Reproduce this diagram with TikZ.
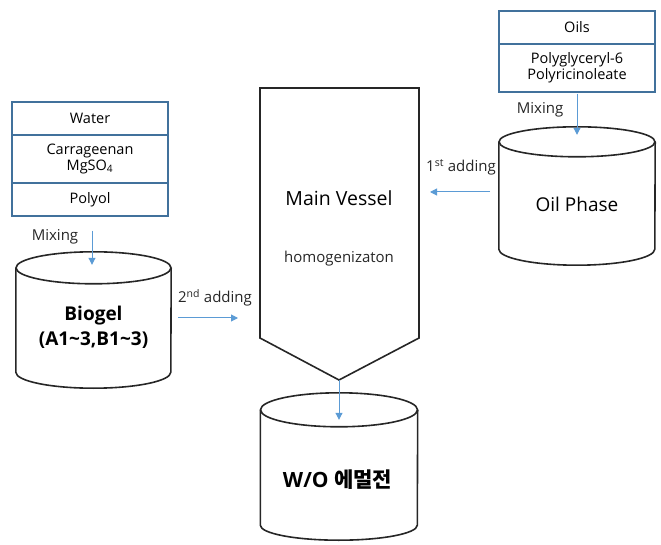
\documentclass[tikz,border=0pt]{standalone}
\usepackage{fontspec}
\setmainfont{Open Sans}
\newfontfamily\krfont{Noto Sans CJK KR}
\usetikzlibrary{arrows.meta}
\definecolor{boxblue}{HTML}{41719C}
\definecolor{arrblue}{HTML}{5B9BD5}
\definecolor{cylgray}{HTML}{262626}
\begin{document}
\begin{tikzpicture}
        [x=1pt,y=1pt,
        box/.style={draw=boxblue, line width=1.3pt, minimum width=156pt, minimum height=33pt, inner sep=0pt, align=center, font=\fontsize{14.5}{16}\selectfont},
        body/.style={minimum width=156pt, inner sep=0pt},
        tank/.style={draw=cylgray, line width=1.6pt},
        arr/.style={draw=arrblue, line width=1pt, -{Triangle[length=7pt,width=7pt]}},
        lbl/.style={font=\fontsize{15}{17}\selectfont, text=black!85}]
        \useasboundingbox (0,0) rectangle (661,544);

        % left stack
        \node[box] (water) at (90,425.5) {Water};
        \node[box, minimum height=48pt] (carra) at (90,385) {Carrageenan\\MgSO\textsubscript{4}};
        \node[box] (polyol) at (90,344.5) {Polyol};

        % right stack
        \node[box] (oils) at (577,516.5) {Oils};
        \node[box, minimum height=48pt] (pgpr) at (577,476) {Polyglyceryl-6\\Polyricinoleate};

        % cylinders
        \node[body, minimum width=155pt, minimum height=104pt] (biogel) at (93.5,224) {};
        \node[body, minimum height=107pt] (oil) at (577,348.5) {};
        \node[body, minimum width=157pt, minimum height=115pt] (wo) at (339,76.5) {};
        \draw[tank] (biogel.north) ellipse [x radius=77.5, y radius=16];
        \draw[tank] (biogel.north west) -- (biogel.south west) arc [start angle=180, end angle=360, x radius=77.5, y radius=16] -- (biogel.north east);
        \draw[tank] (oil.north) ellipse [x radius=78, y radius=15];
        \draw[tank] (oil.north west) -- (oil.south west) arc [start angle=180, end angle=360, x radius=78, y radius=16] -- (oil.north east);
        \draw[tank] (wo.north) ellipse [x radius=78.5, y radius=17];
        \draw[tank] (wo.north west) -- (wo.south west) arc [start angle=180, end angle=360, x radius=78.5, y radius=15] -- (wo.north east);
        \node[font=\bfseries\fontsize{19}{25}\selectfont, align=center] (biogeltxt) at (93.5,216.5) {Biogel\\(A1\textasciitilde3,B1\textasciitilde3)};
        \node[font=\fontsize{19}{24}\selectfont] (oiltxt) at (577,340) {Oil Phase};
        \node[font=\bfseries\fontsize{21}{24}\selectfont] (wotxt) at (337.5,64) {W/O {\krfont 에멀전}};

        % main vessel
        \coordinate (vtl) at (260,456);
        \coordinate (vtr) at (419,456);
        \coordinate (vbr) at (419,206);
        \coordinate (vtip) at (339,164);
        \coordinate (vbl) at (260,206);
        \draw[tank] (vtl) -- (vtr) -- (vbr) -- (vtip) -- (vbl) -- cycle;
        \node[font=\fontsize{19.5}{24}\selectfont] (main) at (339,346) {Main Vessel};
        \node[lbl] (homo) at (339,285) {homogenizaton};

        % labels
        \node[lbl] (mixL) at (55,307) {Mixing};
        \node[lbl] (mixR) at (540,434) {Mixing};
        \node[lbl] (add2) at (215,246) {2\textsuperscript{nd} adding};
        \node[lbl] (add1) at (461,377) {1\textsuperscript{st} adding};

        \coordinate (add2s) at (178,226);
        \coordinate (add2e) at (238,226);
        \coordinate (add1s) at (490,352);
        \coordinate (add1e) at (430,352);

        \draw[arr] ([xshift=2pt,yshift=-14pt]polyol.south) -- ([xshift=-1.5pt,yshift=3pt]biogel.north);
        \draw[arr] ([yshift=-1pt]pgpr.south) -- ([yshift=7pt]oil.north);
        \draw[arr] (add2s) -- (add2e);
        \draw[arr] (add1s) -- (add1e);
        \draw[arr] (vtip) -- ([yshift=-10pt]wo.north);
\end{tikzpicture}
\end{document}
